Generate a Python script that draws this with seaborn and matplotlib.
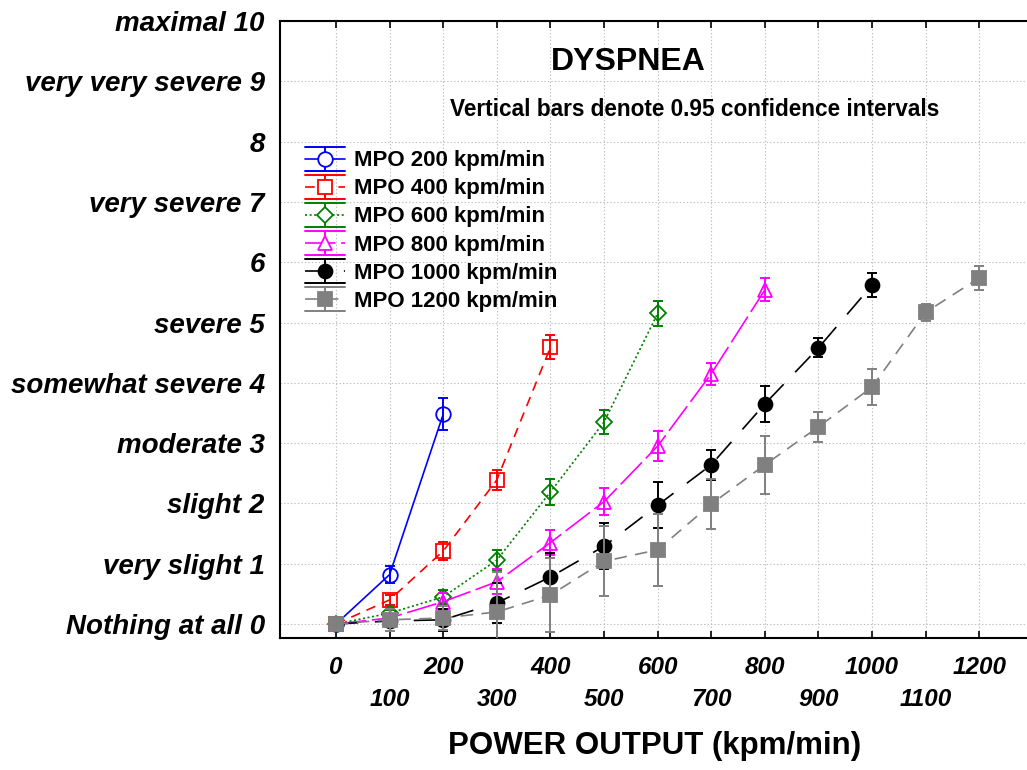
import matplotlib
matplotlib.use("Agg")
import numpy as np
import pandas as pd
import seaborn as sns
import matplotlib.pyplot as plt
from matplotlib.legend_handler import HandlerBase
from matplotlib.lines import Line2D

# ---------------- data ----------------
power_ticks = [0, 100, 200, 300, 400, 500, 600, 700, 800, 900, 1000, 1100, 1200]
y_tick_labels = ["Nothing at all 0", "very slight 1", "slight 2", "moderate 3",
                 "somewhat severe 4", "severe 5", "6", "very severe 7", "8",
                 "very very severe 9", "maximal 10"]

series_names = ["MPO 200 kpm/min", "MPO 400 kpm/min", "MPO 600 kpm/min",
                "MPO 800 kpm/min", "MPO 1000 kpm/min", "MPO 1200 kpm/min"]

mpo200_x = [0, 100, 200]
mpo200_y = [0.0, 0.82, 3.48]
mpo200_ci = [0.03, 0.14, 0.26]

mpo400_x = [0, 100, 200, 300, 400]
mpo400_y = [0.0, 0.40, 1.21, 2.39, 4.59]
mpo400_ci = [0.03, 0.08, 0.15, 0.17, 0.20]

mpo600_x = [0, 100, 200, 300, 400, 500, 600]
mpo600_y = [0.0, 0.18, 0.45, 1.06, 2.19, 3.35, 5.15]
mpo600_ci = [0.03, 0.06, 0.12, 0.16, 0.21, 0.20, 0.21]

mpo800_x = [0, 100, 200, 300, 400, 500, 600, 700, 800]
mpo800_y = [0.0, 0.10, 0.37, 0.70, 1.35, 2.03, 2.95, 4.15, 5.54]
mpo800_ci = [0.03, 0.05, 0.15, 0.21, 0.21, 0.23, 0.25, 0.18, 0.19]

mpo1000_x = [0, 100, 200, 300, 400, 500, 600, 700, 800, 900, 1000]
mpo1000_y = [0.0, 0.05, 0.07, 0.35, 0.78, 1.29, 1.97, 2.64, 3.65, 4.58, 5.62]
mpo1000_ci = [0.03, 0.10, 0.18, 0.33, 0.40, 0.38, 0.38, 0.25, 0.30, 0.16, 0.20]

mpo1200_x = [0, 100, 200, 300, 400, 500, 600, 700, 800, 900, 1000, 1100, 1200]
mpo1200_y = [0.0, 0.07, 0.10, 0.20, 0.48, 1.04, 1.23, 1.99, 2.64, 3.27, 3.93, 5.17, 5.74]
mpo1200_ci = [0.03, 0.18, 0.20, 0.66, 0.62, 0.58, 0.60, 0.42, 0.48, 0.25, 0.30, 0.14, 0.20]

# ---------------- styles ----------------
sns.set_style("white")
plt.rcParams["font.family"] = ["Liberation Sans", "DejaVu Sans"]
plt.rcParams["lines.scale_dashes"] = False
for k in ["text.color", "axes.labelcolor", "xtick.color", "ytick.color", "axes.edgecolor"]:
    plt.rcParams[k] = "black"

styles = [
    dict(color="#0000ff", ls="-", marker="o", filled=False, ms=10.5),
    dict(color="#ff0000", ls=(0, (7, 5)), marker="s", filled=False, ms=9.5),
    dict(color="#008000", ls=(0, (1.5, 1.8)), marker="D", filled=False, ms=8.5),
    dict(color="#ff00ff", ls=(0, (22, 4)), marker="^", filled=False, ms=10.5),
    dict(color="#000000", ls=(0, (16, 12)), marker="o", filled=True, ms=10),
    dict(color="#808080", ls=(0, (9, 6)), marker="s", filled=True, ms=9.5),
]
xs = [mpo200_x, mpo400_x, mpo600_x, mpo800_x, mpo1000_x, mpo1200_x]
ys = [mpo200_y, mpo400_y, mpo600_y, mpo800_y, mpo1000_y, mpo1200_y]
cis = [mpo200_ci, mpo400_ci, mpo600_ci, mpo800_ci, mpo1000_ci, mpo1200_ci]

fig = plt.figure(figsize=(10.27, 7.70), dpi=100)
ax = fig.add_axes([280 / 1027, (770 - 638) / 770, 747 / 1027, 617 / 770])

handles = []
legend_ls = {}
for name, st, x, y, ci in zip(series_names, styles, xs, ys, cis):
    df = pd.DataFrame({"power": x, "rating": y})
    mfc = st["color"] if st["filled"] else "none"
    sns.lineplot(data=df, x="power", y="rating", ax=ax, color=st["color"],
                 linestyle=st["ls"], linewidth=1.2, marker=st["marker"],
                 markersize=st["ms"], markerfacecolor=mfc,
                 markeredgecolor=st["color"], markeredgewidth=1.3,
                 errorbar=None, legend=False, zorder=3)
    ax.errorbar(x, y, yerr=ci, fmt="none", ecolor=st["color"], elinewidth=1.4,
                capsize=3.5, capthick=1.4, zorder=3)
    legend_ls[name] = st["ls"]
    handles.append(Line2D([], [], color=st["color"], linestyle=st["ls"],
                          marker=st["marker"], markersize=st["ms"],
                          markerfacecolor=mfc, markeredgecolor=st["color"],
                          markeredgewidth=1.3, linewidth=1.2, label=name))


class HandlerCI(HandlerBase):
    def create_artists(self, legend, orig, xdescent, ydescent, width, height,
                       fontsize, trans):
        c = orig.get_color()
        x0, x1 = -xdescent, -xdescent + width
        y0, y1 = -ydescent - 0.15 * height, -ydescent + 1.15 * height
        yc = -ydescent + height / 2
        xc = (x0 + x1) / 2
        mfc = orig.get_markerfacecolor()
        if isinstance(mfc, str) and mfc == "none":
            mfc = "white"
        arts = [
            Line2D([x0, x1], [y1, y1], color=c, lw=1.4),
            Line2D([x0, x1], [y0, y0], color=c, lw=1.4),
            Line2D([xc, xc], [y0, y1], color=c, lw=1.4),
            Line2D([x0, x1], [yc, yc], color=c, lw=1.2,
                   linestyle=legend_ls[orig.get_label()]),
            Line2D([xc], [yc], marker=orig.get_marker(),
                   markersize=orig.get_markersize(), markerfacecolor=mfc,
                   markeredgecolor=c, markeredgewidth=1.3, linestyle="none"),
        ]
        for a in arts:
            a.set_transform(trans)
        return arts


leg = ax.legend(handles=handles, handler_map={Line2D: HandlerCI()},
                loc="upper left", bbox_to_anchor=(0.033, 0.792), frameon=False,
                borderpad=0, borderaxespad=0, handlelength=1.8, handleheight=0.9,
                labelspacing=0.28, handletextpad=0.42,
                prop=dict(size=16, weight="bold"))

# ---------------- axes ----------------
ax.set_xlim(-104.5, 1289)
ax.set_ylim(-0.232, 10)
ax.set_xticks(power_ticks)
ax.set_xticklabels([str(v) if i % 2 == 0 else "\n" + str(v)
                    for i, v in enumerate(power_ticks)])
ax.set_yticks(range(11))
ax.set_yticklabels(y_tick_labels)
for lab in ax.get_yticklabels():
    lab.set_fontsize(20)
    lab.set_fontweight("bold")
    lab.set_fontstyle("italic")
for lab in ax.get_xticklabels():
    lab.set_fontsize(17.5)
    lab.set_fontweight("bold")
    lab.set_fontstyle("italic")
    lab.set_linespacing(1.5)

ax.tick_params(axis="x", direction="in", length=5, width=1.2, top=True,
               bottom=True, pad=13, colors="black")
ax.tick_params(axis="y", direction="in", length=0, pad=11, left=True, colors="black")
ax.grid(True, which="major", color="#c0c0c0", linestyle=(0, (1, 1.5)), linewidth=0.8)
ax.set_axisbelow(True)
for side in ["left", "bottom", "top"]:
    ax.spines[side].set_visible(True)
    ax.spines[side].set_color("black")
    ax.spines[side].set_linewidth(1.5)
ax.spines["right"].set_visible(False)
ax.set_xlabel("")
ax.set_ylabel("")

fig.text(628 / 1027, 1 - 62 / 770, "DYSPNEA", ha="center", va="center",
         fontsize=23, fontweight="bold", color="black")
fig.text(695 / 1027, 1 - 110 / 770, "Vertical bars denote 0.95 confidence intervals",
         ha="center", va="center", fontsize=16.3, fontweight="bold", color="black")
fig.text(655 / 1027, 1 - 746 / 770, "POWER OUTPUT (kpm/min)", ha="center",
         va="center", fontsize=22.5, fontweight="bold", color="black")

fig.savefig("out.png", dpi=100)
